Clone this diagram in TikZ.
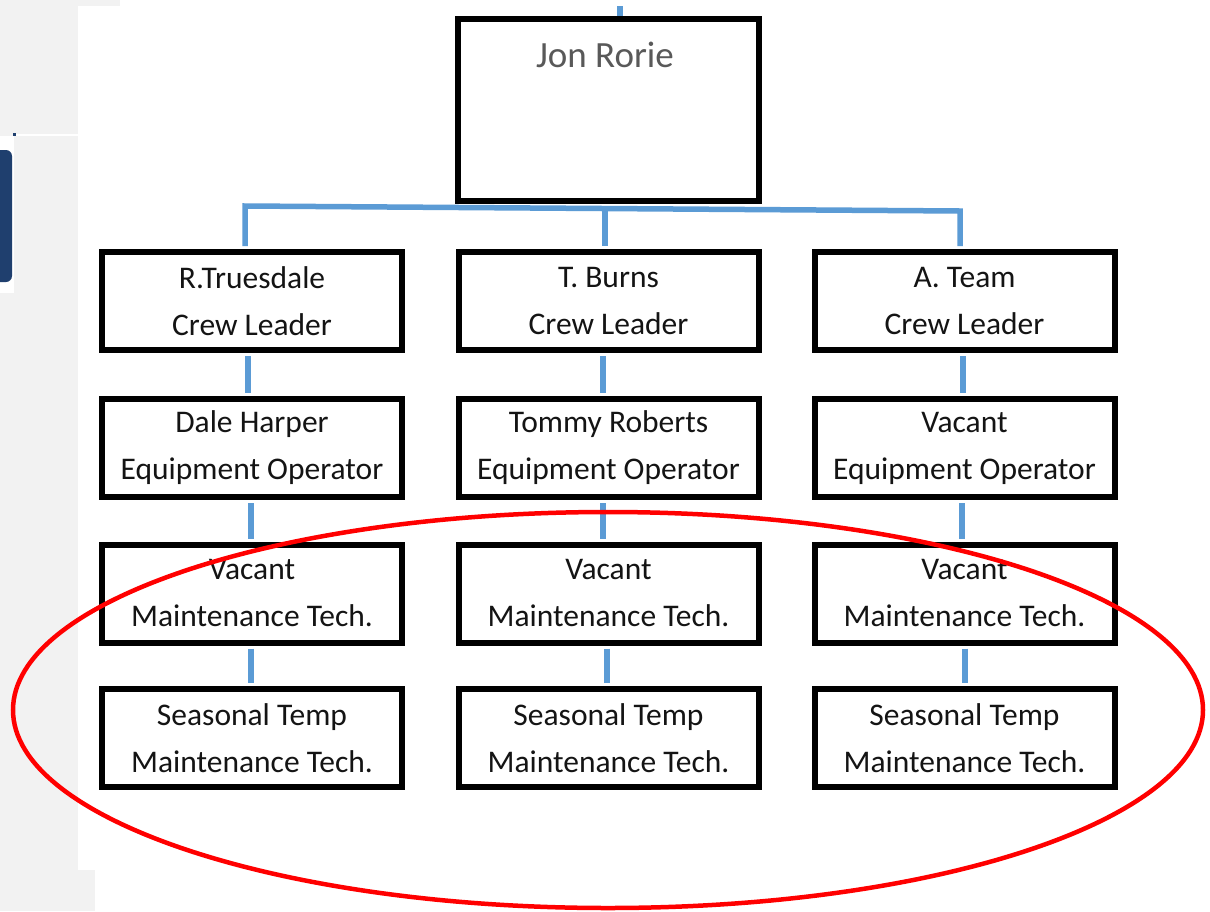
\documentclass[tikz,border=0pt]{standalone}
\usepackage{fontspec}
\setmainfont{Carlito}
\usetikzlibrary{calc}
\definecolor{panelgrey}{HTML}{F2F2F2}
\definecolor{navy}{HTML}{1F3F6E}
\definecolor{connblue}{HTML}{5B9BD5}
\definecolor{txt}{HTML}{141414}
\definecolor{jongrey}{HTML}{595959}
\tikzset{
  box/.style={draw=black, line width=6pt, fill=white, minimum width=300pt, minimum height=98pt,
    inner sep=0pt, align=center, text=txt, font=\fontsize{31.5}{47}\selectfont},
  conn/.style={draw=connblue, line width=5.5pt},
  ring/.style={draw=red, line width=4.5pt}
}
\begin{document}
\begin{tikzpicture}[x=1pt,y=-1pt]
\useasboundingbox (0,0) rectangle (1210,911);
\fill[white] (0,0) rectangle (1210,911);
% side panels
\fill[panelgrey] (0,0) rectangle (78,870);
\fill[panelgrey] (0,0) rectangle (120,6);
\fill[panelgrey] (0,870) rectangle (95,911);
\fill[white] (14,134) rectangle (78,136);
\fill[white] (0,136) rectangle (14,293);
\fill[navy] (13,133) rectangle (16,136);
\fill[navy, rounded corners=6pt] (-12,150) rectangle (12,282);

% top box
\node[box, minimum width=301pt, minimum height=182pt] (top) at (608.5,110) {};
\node[text=jongrey, font=\fontsize{37}{40}\selectfont, inner sep=0pt] (jon) at (605,55) {Jon Rorie};

% rows
\node[box] (a1) at (252,301) {R.Truesdale\\Crew Leader};
\node[box] (b1) at (608.5,301) {T. Burns\\Crew Leader};
\node[box] (c1) at (964.5,301) {A. Team\\Crew Leader};

\node[box] (a2) at (252,448) {Dale Harper\\Equipment Operator};
\node[box] (b2) at (608.5,448) {Tommy Roberts\\Equipment Operator};
\node[box] (c2) at (964.5,448) {Vacant\\Equipment Operator};

\node[box] (a3) at (252,593.5) {Vacant\\Maintenance Tech.};
\node[box] (b3) at (608.5,593.5) {Vacant\\Maintenance Tech.};
\node[box] (c3) at (964.5,593.5) {Vacant\\Maintenance Tech.};

\node[box] (a4) at (252,738) {Seasonal Temp\\Maintenance Tech.};
\node[box] (b4) at (608.5,738) {Seasonal Temp\\Maintenance Tech.};
\node[box] (c4) at (964.5,738) {Seasonal Temp\\Maintenance Tech.};

% connectors
\coordinate (upend) at (620,6);
\draw[conn] (upend) -- ($(top.north)+(11.5,0)$);
\coordinate (hl) at (245,206);
\coordinate (hr) at (960,211);
\draw[conn] ($(a1.north)+(-7,-3)$) -- (hl) -- (hr) -- ($(c1.north)+(-4.5,-3)$);
\draw[conn] ($(top.south)+(-3.5,3)$) -- ($(b1.north)+(-3.5,-3)$);

\draw[conn] ($(a1.south)+(-4,3)$) -- ($(a2.north)+(-4,-3)$);
\draw[conn] ($(a2.south)+(-1,3)$) -- ($(a3.north)+(-1,-3)$);
\draw[conn] ($(a3.south)+(-1,3)$) -- ($(a4.north)+(-1,-3)$);

\draw[conn] ($(b1.south)+(-5.5,3)$) -- ($(b2.north)+(-5.5,-3)$);
\draw[conn] ($(b2.south)+(-5.5,3)$) -- ($(b3.north)+(-5.5,-3)$);
\draw[conn] ($(b3.south)+(-1.5,3)$) -- ($(b4.north)+(-1.5,-3)$);

\draw[conn] ($(c1.south)+(-1.5,3)$) -- ($(c2.north)+(-1.5,-3)$);
\draw[conn] ($(c2.south)+(-2.5,3)$) -- ($(c3.north)+(-2.5,-3)$);
\draw[conn] ($(c3.south)+(0.5,3)$) -- ($(c4.north)+(0.5,-3)$);

% red ellipse
\draw[ring] (608,710) ellipse [x radius=595pt, y radius=198pt];
\end{tikzpicture}
\end{document}
